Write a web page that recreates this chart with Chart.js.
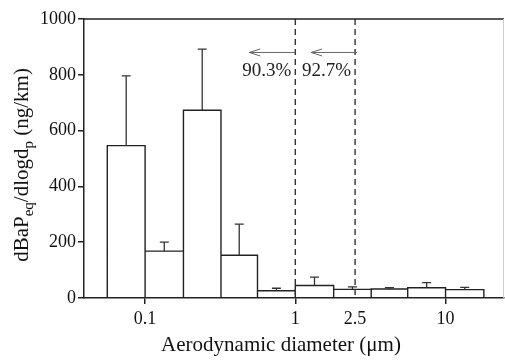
<!DOCTYPE html>
<html>
<head>
<meta charset="utf-8">
<script src="https://cdn.jsdelivr.net/npm/chart.js@4/dist/chart.umd.min.js"></script>
<style>
  html, body { margin: 0; padding: 0; background: #fff; }
  #wrap { width: 505px; height: 360px; }
</style>
</head>
<body>
<div id="wrap"><canvas id="chart" width="505" height="360"></canvas></div>
<script>
// MOUDI stage cut points (um) and dBaPeq/dlogdp per stage (ng/km)
var binEdges = [0.056, 0.1, 0.18, 0.32, 0.56, 1.0, 1.8, 3.2, 5.6, 10, 18];
var concentrations = [546, 168, 673, 153, 26, 45, 31, 32, 37, 30];
var errorTops = [796, 200, 892, 265, 35, 75, 40, 37, 55, 38];
var xTickValues = [0.1, 1, 2.5, 10];
var yTickStep = 200;
var cutSizes = [1, 2.5];
var cutLabels = ['90.3%', '92.7%'];

var SERIF = '"Liberation Serif", "Times New Roman", serif';
var INK = '#222';

// outline of each stage bar as a polyline
var outline = [];
for (var i = 0; i < concentrations.length; i++) {
  outline.push({x: binEdges[i], y: 0});
  outline.push({x: binEdges[i], y: concentrations[i]});
  outline.push({x: binEdges[i + 1], y: concentrations[i]});
  outline.push({x: binEdges[i + 1], y: 0});
}

var extras = {
  id: 'extras',
  afterDatasetsDraw: function(chart) {
    var ctx = chart.ctx, xs = chart.scales.x, ys = chart.scales.y, a = chart.chartArea;
    ctx.save();

    // error bars (upper only)
    ctx.strokeStyle = '#333';
    ctx.lineWidth = 1.3;
    for (var i = 0; i < concentrations.length; i++) {
      var cx = xs.getPixelForValue(Math.sqrt(binEdges[i] * binEdges[i + 1]));
      var y0 = ys.getPixelForValue(concentrations[i]);
      var y1 = ys.getPixelForValue(errorTops[i]);
      ctx.beginPath();
      ctx.moveTo(cx, y0); ctx.lineTo(cx, y1);
      ctx.moveTo(cx - 4.5, y1); ctx.lineTo(cx + 4.5, y1);
      ctx.stroke();
    }

    // dashed cut lines, arrows and percentages
    for (var j = 0; j < cutSizes.length; j++) {
      var lx = xs.getPixelForValue(cutSizes[j]);
      ctx.setLineDash([6, 4]);
      ctx.strokeStyle = '#333';
      ctx.lineWidth = 1.4;
      ctx.beginPath();
      ctx.moveTo(lx, a.top); ctx.lineTo(lx, a.bottom);
      ctx.stroke();
      ctx.setLineDash([]);

      var ay = ys.getPixelForValue(880);
      var ax0 = lx + (j === 0 ? 0 : 2);
      var ax1 = ax0 - 46;
      ctx.strokeStyle = '#666';
      ctx.lineWidth = 1;
      ctx.beginPath();
      ctx.moveTo(ax0, ay); ctx.lineTo(ax1, ay);
      ctx.moveTo(ax1 + 11, ay - 3.5); ctx.lineTo(ax1, ay); ctx.lineTo(ax1 + 11, ay + 3.5);
      ctx.stroke();

      ctx.fillStyle = '#222';
      ctx.font = '19px ' + SERIF;
      ctx.textAlign = 'right';
      ctx.textBaseline = 'alphabetic';
      ctx.fillText(cutLabels[j], lx - 4, ys.getPixelForValue(800) + 1);
    }

    // top and right frame
    ctx.strokeStyle = INK;
    ctx.lineWidth = 1.5;
    ctx.beginPath();
    ctx.moveTo(a.left, a.top); ctx.lineTo(a.right, a.top);
    ctx.stroke();
    ctx.strokeStyle = '#ccc';
    ctx.lineWidth = 1;
    ctx.beginPath();
    ctx.moveTo(a.right - 0.5, a.top); ctx.lineTo(a.right - 0.5, a.bottom);
    ctx.stroke();

    // axis titles
    ctx.fillStyle = '#111';
    ctx.font = '21px ' + SERIF;
    ctx.textAlign = 'center';
    ctx.fillText('Aerodynamic diameter (\u03bcm)', 281, 351);

    // y title with subscripts, rotated
    var parts = [['dBaP', 0], ['eq', 1], ['/dlogd', 0], ['p', 1], [' (ng/km)', 0]];
    var big = '21px ' + SERIF, small = '15px ' + SERIF;
    var total = 0;
    parts.forEach(function(p) { ctx.font = p[1] ? small : big; total += ctx.measureText(p[0]).width; });
    ctx.translate(28, 165);
    ctx.rotate(-Math.PI / 2);
    ctx.textAlign = 'left';
    var px = -total / 2;
    parts.forEach(function(p) {
      ctx.font = p[1] ? small : big;
      ctx.fillText(p[0], px, p[1] ? 5 : 0);
      px += ctx.measureText(p[0]).width;
    });
    ctx.restore();
  }
};

new Chart(document.getElementById('chart'), {
  type: 'line',
  data: {
    datasets: [{
      data: outline,
      borderColor: INK,
      borderWidth: 1.4,
      pointRadius: 0,
      fill: false,
      tension: 0
    }]
  },
  options: {
    responsive: false,
    animation: false,
    events: [],
    layout: { padding: { top: 19, right: 1, left: 0, bottom: 0 } },
    plugins: { legend: { display: false }, tooltip: { enabled: false } },
    scales: {
      x: {
        type: 'logarithmic',
        min: 0.0392,
        max: 24.5,
        afterBuildTicks: function(scale) {
          scale.ticks = xTickValues.map(function(v) { return {value: v}; });
        },
        afterFit: function(scale) { scale.height = 62; },
        ticks: {
          autoSkip: false,
          maxRotation: 0,
          color: '#111',
          font: { family: SERIF, size: 18 },
          padding: 4,
          callback: function(value) { return String(value); }
        },
        grid: {
          drawOnChartArea: false,
          tickLength: 6,
          lineWidth: 1.5,
          color: function(c) { return c.tick && c.tick.value === 2.5 ? 'rgba(0,0,0,0)' : INK; }
        },
        border: { color: INK, width: 1.5 }
      },
      y: {
        min: 0,
        max: 1000,
        afterFit: function(scale) { scale.width = 84; },
        ticks: {
          stepSize: yTickStep,
          color: '#111',
          font: { family: SERIF, size: 18 },
          padding: 2,
          callback: function(value) { return String(value); }
        },
        grid: { drawOnChartArea: false, tickLength: 6, lineWidth: 1.5, color: INK },
        border: { color: INK, width: 1.5 }
      }
    }
  },
  plugins: [extras]
});
</script>
</body>
</html>
